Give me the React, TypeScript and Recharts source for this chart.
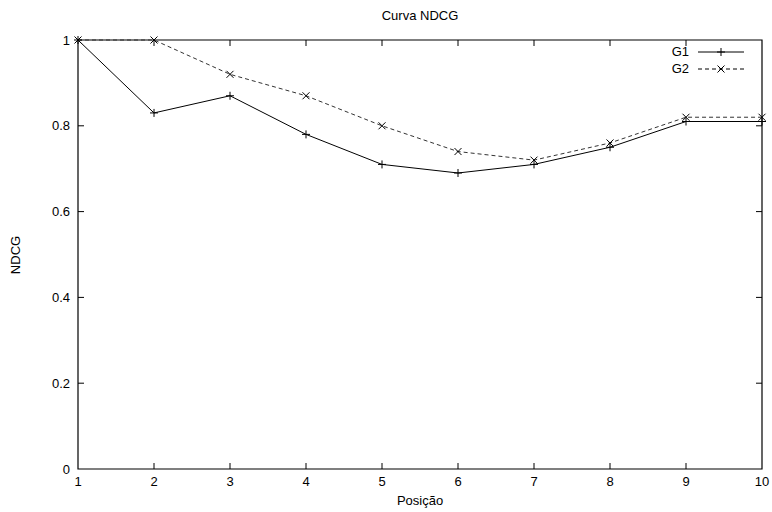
import { LineChart, Line, XAxis, YAxis, ReferenceArea, ReferenceLine } from 'recharts';

document.body.style.margin = '0';

const positions = [1, 2, 3, 4, 5, 6, 7, 8, 9, 10];
const g1Values = [1, 0.83, 0.87, 0.78, 0.71, 0.69, 0.71, 0.75, 0.81, 0.81];
const g2Values = [1, 1, 0.92, 0.87, 0.8, 0.74, 0.72, 0.76, 0.82, 0.82];
const yTicks = [0, 0.2, 0.4, 0.6, 0.8, 1];

const data = positions.map((pos, i) => ({ pos, g1: g1Values[i], g2: g2Values[i] }));

const FONT = '"Liberation Sans", Arial, Helvetica, sans-serif';

// plot box in pixels, used to turn the 6px gnuplot tick length into data units
const PLOT_W = 684;
const PLOT_H = 429;
const TICK_PX = 6;
const xMin = 1;
const xMax = 10;
const yMin = 0;
const yMax = 1;
const dx = (TICK_PX * (xMax - xMin)) / PLOT_W;
const dy = (TICK_PX * (yMax - yMin)) / PLOT_H;

const PlusDot = (props: any) => {
  const { cx, cy, index } = props;
  if (cx == null || cy == null) return <g key={`p${index}`} />;
  return (
    <path
      key={`p${index}`}
      d={`M${cx - 4},${cy}h8M${cx},${cy - 4}v8`}
      stroke="#000"
      strokeWidth={1}
      fill="none"
    />
  );
};

const CrossDot = (props: any) => {
  const { cx, cy, index } = props;
  if (cx == null || cy == null) return <g key={`x${index}`} />;
  return (
    <path
      key={`x${index}`}
      d={`M${cx - 3.5},${cy - 3.5}l7,7M${cx + 3.5},${cy - 3.5}l-7,7`}
      stroke="#000"
      strokeWidth={1}
      fill="none"
    />
  );
};

const legendRows = [
  { name: 'G1', dash: undefined as string | undefined, marker: 'plus' },
  { name: 'G2', dash: '4 3', marker: 'cross' },
];

const LegendBox = () => (
  <div style={{ position: 'absolute', top: 43, left: 660, fontFamily: FONT, fontSize: 13, color: '#000' }}>
    {legendRows.map((row) => (
      <div key={row.name} style={{ display: 'flex', alignItems: 'center', height: 17, justifyContent: 'flex-end', width: 84 }}>
        <span style={{ marginRight: 9 }}>{row.name}</span>
        <svg width={46} height={10}>
          <line x1={0} y1={5} x2={46} y2={5} stroke="#000" strokeWidth={1} strokeDasharray={row.dash} />
          {row.marker === 'plus' ? (
            <path d="M19,5h8M23,1v8" stroke="#000" fill="none" />
          ) : (
            <path d="M19.5,1.5l7,7M26.5,1.5l-7,7" stroke="#000" fill="none" />
          )}
        </svg>
      </div>
    ))}
  </div>
);

const tickStyle = { fontFamily: FONT, fontSize: 13, fill: '#000' };

const innerX = positions.filter((p) => p !== xMin && p !== xMax);
const innerY = yTicks.filter((t) => t !== yMin && t !== yMax);

const App = () => {
  return (
    <div style={{ position: 'relative', width: 772, height: 512, background: '#fff', fontFamily: FONT }}>
      <LineChart width={772} height={512} data={data} margin={{ top: 40, right: 10, left: 18, bottom: 13 }}>
        <XAxis
          dataKey="pos"
          type="number"
          domain={[xMin, xMax]}
          ticks={positions}
          height={30}
          tickSize={0}
          tickMargin={8}
          tickLine={false}
          axisLine={false}
          tick={tickStyle}
        />
        <YAxis
          type="number"
          domain={[yMin, yMax]}
          ticks={yTicks}
          width={60}
          tickSize={0}
          tickMargin={8}
          tickLine={false}
          axisLine={false}
          tick={tickStyle}
        />
        <ReferenceArea x1={xMin} x2={xMax} y1={yMin} y2={yMax} fill="none" stroke="#000" strokeWidth={1.2} />
        {innerX.map((p) => (
          <ReferenceLine key={`b${p}`} segment={[{ x: p, y: yMin }, { x: p, y: yMin + dy }]} stroke="#000" />
        ))}
        {innerX.map((p) => (
          <ReferenceLine key={`t${p}`} segment={[{ x: p, y: yMax }, { x: p, y: yMax - dy }]} stroke="#000" />
        ))}
        {innerY.map((t) => (
          <ReferenceLine key={`l${t}`} segment={[{ x: xMin, y: t }, { x: xMin + dx, y: t }]} stroke="#000" />
        ))}
        {innerY.map((t) => (
          <ReferenceLine key={`r${t}`} segment={[{ x: xMax, y: t }, { x: xMax - dx, y: t }]} stroke="#000" />
        ))}
        <Line
          dataKey="g1"
          name="G1"
          type="linear"
          stroke="#000"
          strokeWidth={1}
          dot={PlusDot}
          activeDot={false}
          isAnimationActive={false}
        />
        <Line
          dataKey="g2"
          name="G2"
          type="linear"
          stroke="#333"
          strokeWidth={1}
          strokeDasharray="4 3"
          dot={CrossDot}
          activeDot={false}
          isAnimationActive={false}
        />
      </LineChart>
      <LegendBox />
      <div style={{ position: 'absolute', top: 8, left: 0, width: 840, textAlign: 'center', fontSize: 13 }}>Curva NDCG</div>
      <div style={{ position: 'absolute', top: 493, left: 0, width: 840, textAlign: 'center', fontSize: 13 }}>Posição</div>
      <div
        style={{
          position: 'absolute',
          left: 15,
          top: 255,
          fontSize: 13,
          transform: 'translate(-50%, -50%) rotate(-90deg)',
          whiteSpace: 'nowrap',
        }}
      >
        NDCG
      </div>
    </div>
  );
};

export default App;
